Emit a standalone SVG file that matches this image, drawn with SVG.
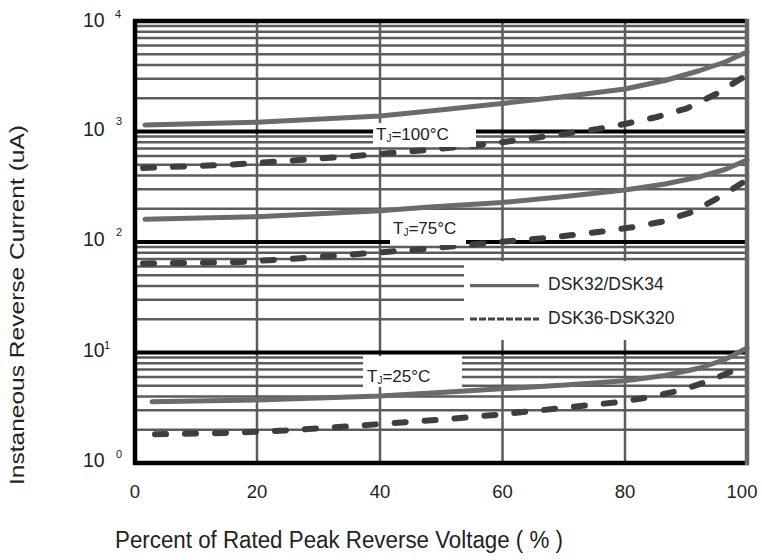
<svg xmlns="http://www.w3.org/2000/svg" width="762" height="560" viewBox="0 0 762 560">
<style>
text{font-family:"Liberation Sans",Arial,sans-serif;fill:#222}
.g{stroke:#5c5c5c;stroke-width:2.5;fill:none}
.h{stroke:#000;stroke-width:4;fill:none}
.s{stroke:#6b6b6b;stroke-width:5;fill:none;stroke-linecap:round;stroke-linejoin:round}
.d{stroke:#3e3e3e;stroke-width:6;fill:none;stroke-linecap:round;stroke-linejoin:round;stroke-dasharray:11 19}
.box{fill:#fff}
.tk{font-size:18.5px;text-anchor:middle}
.yt{font-size:19.5px}
.sup{font-size:11px}
.lbl{font-size:17px}
.sub{font-size:10px}
.leg{font-size:17.5px}
</style>
<rect width="762" height="560" fill="#fff"/>
<g id="grid">
<path class="g" d="M257,21V463M380,21V463M502.5,21V463M625,21V463"/>
<path class="g" d="M135,429.74H747M135,410.28H747M135,396.47H747M135,385.76H747M135,377.01H747M135,369.62H747M135,363.21H747M135,357.56H747
M135,319.24H747M135,299.78H747M135,285.97H747M135,275.26H747M135,266.51H747M135,259.12H747M135,252.71H747M135,247.06H747
M135,208.74H747M135,189.28H747M135,175.47H747M135,164.76H747M135,156.01H747M135,148.62H747M135,142.21H747M135,136.56H747
M135,98.24H747M135,78.78H747M135,64.97H747M135,54.26H747M135,45.51H747M135,38.12H747M135,31.71H747M135,26.06H747"/>
<path class="h" d="M135,352.5H747M135,242H747M135,131.5H747"/>
</g>
<g id="curves">
<path id="c100s" class="s" d="M145,125 L257,122.3 L380,116 L430,111 L502,103.5 L565,96.5 L625,89 L665,80.5 L700,70.5 L725,62 L747,52"/>
<path id="c100d" class="d" d="M143,168 L233,164.5 L293,160.5 L355,156 L415,151 L480,145 L538,137.5 L598,129 L627,123.5 L657,117 L687,108.3 L716,94 L747,75"/>
<path id="c75s" class="s" d="M145,219.3 L257,216.7 L380,210.7 L430,207 L502,202.5 L565,196.5 L625,190 L665,184 L700,176.7 L725,169.5 L747,160"/>
<path id="c75d" class="d" d="M143,263.5 L235,262.3 L297,258.5 L358,254 L418,249.5 L482,243.5 L540,238.5 L570,235.3 L602,231.5 L632,227.3 L663,221.5 L692,212 L718,198 L747,180"/>
<path id="c25s" class="s" d="M152,401.7 L257,400 L380,396 L440,392.5 L502,388.8 L565,385 L625,380.7 L665,375.5 L700,368 L725,359.5 L747,348"/>
<path id="c25d" class="d" d="M155,434.3 L225,433 L285,430.5 L347,426.5 L408,422 L445,419.3 L500,414.5 L562,408 L622,401.7 L652,396.7 L682,390 L710,380.5 L747,365"/>
</g>
<g id="label-100">
<rect class="box" x="373" y="123" width="103" height="24"/>
<text class="lbl" x="376" y="139.5">T<tspan class="sub" dy="2">J</tspan><tspan dy="-2">=100°C</tspan></text>
</g>
<g id="label-75">
<rect class="box" x="390" y="215" width="76" height="30"/>
<text class="lbl" x="393" y="234">T<tspan class="sub" dy="2">J</tspan><tspan dy="-2">=75°C</tspan></text>
</g>
<g id="label-25">
<rect class="box" x="363" y="356" width="99" height="31"/>
<text class="lbl" x="367" y="381.7">T<tspan class="sub" dy="2">J</tspan><tspan dy="-2">=25°C</tspan></text>
</g>
<g id="legend">
<rect class="box" x="464" y="261" width="281" height="79"/>
<line x1="470" y1="285.7" x2="539" y2="285.7" stroke="#666" stroke-width="3.2"/>
<line x1="470" y1="319" x2="539" y2="319" stroke="#444" stroke-width="3.2" stroke-dasharray="7 2"/>
<text class="leg" x="548" y="290">DSK32/DSK34</text>
<text class="leg" x="548" y="323.5">DSK36-DSK320</text>
</g>
<g id="frame">
<path d="M135,19V465M133,463H749M133,21H747" stroke="#000" stroke-width="4.5" fill="none"/>
<path d="M747,19V465" stroke="#666" stroke-width="4.5" fill="none"/>
</g>
<g id="y-ticks">
<text class="yt" x="83" y="27">10</text><text class="sup" x="115" y="17.5">4</text>
<text class="yt" x="83" y="135.5">10</text><text class="sup" x="116" y="125">3</text>
<text class="yt" x="83" y="246">10</text><text class="sup" x="116" y="236">2</text>
<text class="yt" x="83" y="357">10</text><text class="sup" x="104" y="348.5">1</text>
<text class="yt" x="83" y="467">10</text><text class="sup" x="116" y="458">0</text>
</g>
<g id="x-ticks">
<text class="tk" x="135" y="498">0</text>
<text class="tk" x="257" y="498">20</text>
<text class="tk" x="380" y="498">40</text>
<text class="tk" x="502.5" y="498">60</text>
<text class="tk" x="625" y="498">80</text>
<text class="tk" x="742" y="498">100</text>
</g>
<g id="titles">
<text x="115" y="548" font-size="23" textLength="448" lengthAdjust="spacingAndGlyphs">Percent of Rated Peak Reverse Voltage ( % )</text>
<text transform="translate(23.5,305) rotate(-90)" text-anchor="middle" font-size="21" textLength="360" lengthAdjust="spacingAndGlyphs">Instaneous Reverse Current (uA)</text>
</g>
</svg>
